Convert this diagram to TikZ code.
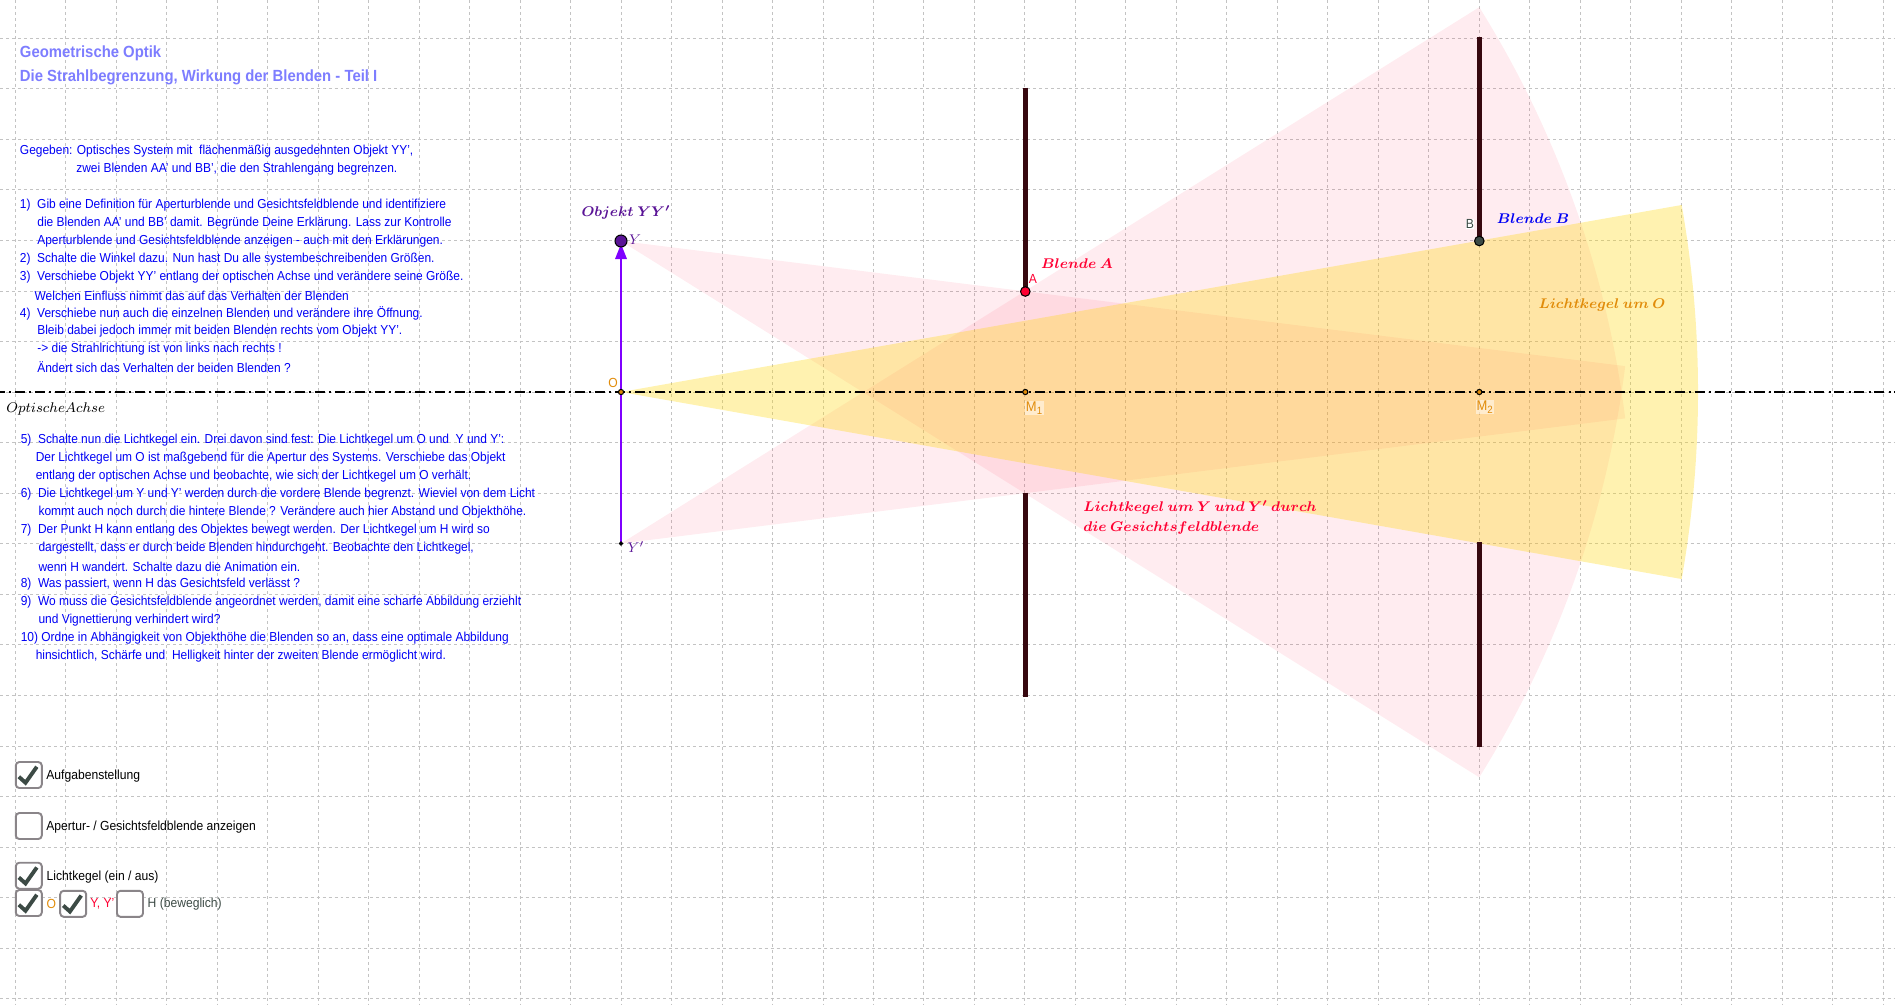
\documentclass[tikz,border=0pt]{standalone}
\usepackage{amsmath, amssymb}
\usepackage{fontspec}
\setmainfont[FakeStretch=0.92]{Liberation Sans}
\usepackage{tikz}
\definecolor{gitter}{RGB}{195,195,195}
\definecolor{blau}{RGB}{0,0,245}
\definecolor{titel}{RGB}{125,125,255}
\definecolor{violett}{RGB}{127,0,255}
\definecolor{lila}{RGB}{90,20,150}
\definecolor{rot}{RGB}{255,0,50}
\definecolor{gelb}{RGB}{255,217,15}
\definecolor{orange1}{RGB}{225,140,10}
\definecolor{dunkel}{RGB}{60,74,69}
\definecolor{blende}{RGB}{55,8,15}
\definecolor{rand}{RGB}{138,133,137}
\tikzset{
  aufgabe/.style={anchor=west,inner sep=0pt,yshift=-.5pt,text=blau,font=\fontsize{7.4}{9}\selectfont},
  titelzeile/.style={anchor=west,inner sep=0pt,yshift=-.7pt,text=titel,font=\fontsize{9.2}{11}\selectfont\bfseries},
  schalter/.style={anchor=west,inner sep=0pt,yshift=-.7pt,font=\fontsize{7.5}{9}\selectfont},
  kasten/.style={draw=rand,line width=1.1pt,rounded corners=2pt,fill=white,minimum size=14.8pt,inner sep=0pt},
  haken/.style={dunkel,line width=2.2pt},
  marke/.style={inner sep=0pt,yshift=-.5pt,font=\fontsize{7.95}{10}\selectfont\boldmath},
  kegelrot/.style={fill=rot,fill opacity=.075},
  kegelgelb/.style={fill=gelb,fill opacity=.33},
  blendenstab/.style={blende,line width=3pt},
  punkt/.style={draw=black,line width=.6pt},
  klein/.style={inner sep=0pt,font=\fontsize{7.5}{9}\selectfont},
  hof/.style={inner sep=.5pt,fill=white,fill opacity=.5,text opacity=1,text=orange1,font=\fontsize{8}{9}\selectfont}
}
\begin{document}
\begin{tikzpicture}[x=0.02cm,y=-0.02cm]
\useasboundingbox (0,0) rectangle (1895,1005);
% gitter
\foreach \k in {0,...,37}
  \draw[gitter,line width=.55pt,dash pattern=on 1.7pt off 1.7pt] ({15.3+50.48*\k},0) -- ({15.3+50.48*\k},1005);
\foreach \k in {0,...,19}
  \draw[gitter,line width=.55pt,dash pattern=on 1.7pt off 1.7pt] (0,{38.3+50.55*\k}) -- (1895,{38.3+50.55*\k});
\coordinate (O) at (621,392);
\coordinate (Y) at (621,241);
\coordinate (Ys) at (621,543.5);
\coordinate (M1) at (1025.3,392);
\coordinate (M2) at (1479.3,392);
\coordinate (A) at (1025.3,291.5);
\coordinate (As) at (1025.3,492.5);
\coordinate (B) at (1479.3,241);
\coordinate (Bs) at (1479.3,542);
\coordinate (Aoben) at (1025.3,87.5);
\coordinate (Aunten) at (1025.3,697);
\coordinate (Boben) at (1479.3,37);
\coordinate (Bunten) at (1479.3,747);
% lichtkegel
\fill[kegelrot] (Y) -- ++(7.1:1012) arc (7.1:32:1012) -- cycle;
\fill[kegelrot] (Ys) -- ++(-7.1:1012) arc (-7.1:-32:1012) -- cycle;
\fill[kegelgelb] (O) -- ++(-10:1077) arc (-10:10:1077) -- cycle;
% achse und blenden
\draw[black,line width=1.25pt,dash pattern=on 5.7pt off 2.3pt on 1.14pt off 2.24pt,dash phase=2.85pt] (0,392) -- (1895,392);
\draw[blendenstab] (Aoben) -- (A);
\draw[blendenstab] (As) -- (Aunten);
\draw[blendenstab] (Boben) -- (B);
\draw[blendenstab] (Bs) -- (Bunten);
% objekt
\draw[violett,line width=1.4pt] (Ys) -- (Y);
\fill[violett] (621,244) -- (627,259) -- (615,259) -- cycle;
\draw[punkt,fill=lila] (Y) circle (6);
\draw[punkt,fill=black] (Ys) circle (1.6);
\draw[punkt,fill=orange1] (O) circle (2.6);
\draw[punkt,fill=orange1] (M1) circle (2.6);
\draw[punkt,fill=orange1] (M2) circle (2.6);
\draw[punkt,fill=rot] (A) circle (4.8);
\draw[punkt,fill=dunkel] (B) circle (4.8);
% bezeichnungen
\node[marke,text=lila] (objekt) at (626,212) {$Objekt\ YY'$};
\node[inner sep=0pt,text=lila,font=\fontsize{8.5}{9}\selectfont] (ly) at (635,240) {$Y$};
\node[inner sep=0pt,text=lila,font=\fontsize{8.5}{9}\selectfont] (lys) at (636,547) {$Y'$};
\node[klein,text=orange1] (lo) at (613,383) {O};
\node[hof] (lm1) at (1034.5,408) {M$_{\text{1}}$};
\node[hof] (lm2) at (1485,407) {M$_{\text{2}}$};
\node[klein,text=rot] (la) at (1033,279) {A};
\node[klein,text=dunkel,fill=white] (lb) at (1470,224) {B};
\node[marke,text=rot] (blendea) at (1077,263) {$Blende\ A$};
\node[marke,text=blau] (blendeb) at (1533,218) {$Blende\ B$};
\node[marke,text=orange1] (kegelo) at (1602,304) {$Lichtkegel\ um\ O$};
\node[marke,text=rot,anchor=west] (kegely) at (1083,506.5) {$Lichtkegel\ um\ Y\ und\ Y'\ durch$};
\node[marke,text=rot,anchor=west] (kegelg) at (1083,527.5) {$die\ Gesichtsfeldblende$};
\node[inner sep=0pt,anchor=west,font=\fontsize{7.95}{10}\selectfont] (achse) at (6,409) {$OptischeAchse$};
% text oben
\node[titelzeile] (t1) at (19.6,52) {Geometrische Optik};
\node[titelzeile] (t2) at (19.6,75.7) {Die Strahlbegrenzung, Wirkung der Blenden - Teil I};
\node[aufgabe] (g1) at (19.6,150.7) {Gegeben: Optisches System mit\ \ flächenmäßig ausgedehnten Objekt YY',};
\node[aufgabe] (g2) at (76,168.7) {zwei Blenden AA' und BB', die den Strahlengang begrenzen.};
\node[aufgabe] (a1) at (19.6,204.7) {1)\ \ Gib eine Definition für Aperturblende und Gesichtsfeldblende und identifiziere};
\node[aufgabe] (a1b) at (37,222.7) {die Blenden AA' und BB' damit. Begründe Deine Erklärung. Lass zur Kontrolle};
\node[aufgabe] (a1c) at (37,240.7) {Aperturblende und Gesichtsfeldblende anzeigen - auch mit den Erklärungen.};
\node[aufgabe] (a2) at (19.6,258.7) {2)\ \ Schalte die Winkel dazu. Nun hast Du alle systembeschreibenden Größen.};
\node[aufgabe] (a3) at (19.6,276.7) {3)\ \ Verschiebe Objekt YY' entlang der optischen Achse und verändere seine Größe.};
\node[aufgabe] (a3b) at (34.3,294.7) {Welchen Einfluss nimmt das auf das Verhalten der Blenden};
\node[aufgabe] (a4) at (19.6,312.7) {4)\ \ Verschiebe nun auch die einzelnen Blenden und verändere ihre Öffnung.};
\node[aufgabe] (a4b) at (37,330.7) {Bleib dabei jedoch immer mit beiden Blenden rechts vom Objekt YY'.};
\node[aufgabe] (a4c) at (37,348.7) {-> die Strahlrichtung ist von links nach rechts !};
\node[aufgabe] (a4d) at (37,366.7) {Ändert sich das Verhalten der beiden Blenden ?};
% text unten
\node[aufgabe] (a5) at (20.4,439.3) {5)\ \ Schalte nun die Lichtkegel ein. Drei davon sind fest: Die Lichtkegel um O und\ \ Y und Y':};
\node[aufgabe] (a5b) at (35.4,457.3) {Der Lichtkegel um O ist maßgebend für die Apertur des Systems. Verschiebe das Objekt};
\node[aufgabe] (a5c) at (35.4,475.6) {entlang der optischen Achse und beobachte, wie sich der Lichtkegel um O verhält.};
\node[aufgabe] (a6) at (20.4,493.7) {6)\ \ Die Lichtkegel um Y und Y' werden durch die vordere Blende begrenzt. Wieviel von dem Licht};
\node[aufgabe] (a6b) at (38.2,511.7) {kommt auch noch durch die hintere Blende ? Verändere auch hier Abstand und Objekthöhe.};
\node[aufgabe] (a7) at (20.4,529.7) {7)\ \ Der Punkt H kann entlang des Objektes bewegt werden. Der Lichtkegel um H wird so};
\node[aufgabe] (a7b) at (38.2,547.7) {dargestellt, dass er durch beide Blenden hindurchgeht. Beobachte den Lichtkegel,};
\node[aufgabe] (a7c) at (38.2,565.7) {wenn H wandert. Schalte dazu die Animation ein.};
\node[aufgabe] (a8) at (20.4,583.7) {8)\ \ Was passiert, wenn H das Gesichtsfeld verlässt ?};
\node[aufgabe] (a9) at (20.4,601.7) {9)\ \ Wo muss die Gesichtsfeldblende angeordnet werden, damit eine scharfe Abbildung erziehlt};
\node[aufgabe] (a9b) at (38.2,619.7) {und Vignettierung verhindert wird?};
\node[aufgabe] (a10) at (20.4,637.7) {10) Ordne in Abhängigkeit von Objekthöhe die Blenden so an, dass eine optimale Abbildung};
\node[aufgabe] (a10b) at (35.4,655.7) {hinsichtlich, Schärfe und\ \ Helligkeit hinter der zweiten Blende ermöglicht wird.};
% schalter
\node[kasten] (k1) at (28.8,775) {};
\node[kasten] (k2) at (28.8,826) {};
\node[kasten] (k3) at (28.8,875.7) {};
\node[kasten] (k4) at (28.8,903) {};
\node[kasten] (k5) at (73.2,903.8) {};
\node[kasten] (k6) at (130,903.8) {};
\foreach \n in {k1,k3,k4,k5}
  \draw[haken] ([shift={(4,15.7)}]\n.north west) -- ([shift={(10.7,21.7)}]\n.north west) -- ([shift={(22,5.7)}]\n.north west);
\node[schalter] (s1) at (46,775) {Aufgabenstellung};
\node[schalter] (s2) at (46,826) {Apertur- / Gesichtsfeldblende anzeigen};
\node[schalter] (s3) at (46.3,876) {Lichtkegel (ein / aus)};
\node[schalter,text=orange1] (s4) at (46.3,903) {O};
\node[schalter,text=rot] (s5) at (90,903) {Y, Y'};
\node[schalter,text=dunkel] (s6) at (147.3,903) {H (beweglich)};
\end{tikzpicture}
\end{document}
